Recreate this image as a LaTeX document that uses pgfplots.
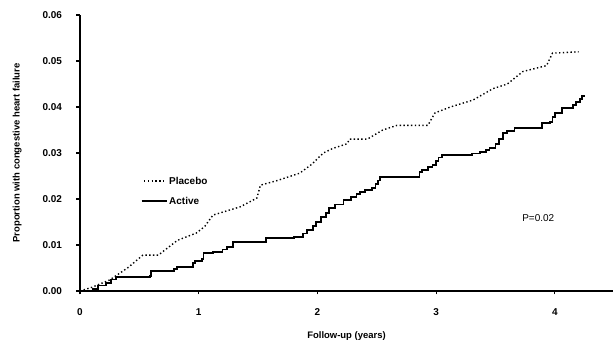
\documentclass[border=0pt]{standalone}
\usepackage{pgfplots}
\pgfplotsset{compat=1.18}
\usepackage{fontspec}
\setmainfont{Liberation Sans}
\begin{document}
\begin{tikzpicture}
\begin{axis}[
  scale only axis, width=533bp, height=276bp,
  xmin=0, xmax=4.49, ymin=0, ymax=0.06,
  axis lines=left, axis line style={-, line width=1.6pt},
  tick align=outside, major tick length=3.5bp,
  tick style={line width=1.1pt, black},
  xtick={0,1,2,3,4}, ytick={0,0.01,0.02,0.03,0.04,0.05,0.06},
  yticklabel style={/pgf/number format/fixed, /pgf/number format/fixed zerofill, /pgf/number format/precision=2, xshift=-11bp},
  xticklabel style={yshift=-11bp},
  /pgf/number format/assume math mode=true,
  ticklabel style={font=\fontsize{10}{12}\selectfont\bfseries},
  scaled y ticks=false,
  xlabel={Follow-up (years)}, ylabel={Proportion with congestive heart failure},
  label style={font=\fontsize{9.5}{11}\selectfont\bfseries},
  xlabel style={yshift=-9bp},
  ylabel style={yshift=14bp},
  clip=false,
]
\coordinate (ll) at (rel axis cs:0,0);
\coordinate (ur) at (rel axis cs:1,1);
\addplot[black, line width=1.4pt, dash pattern=on 1.4pt off 2.4pt] coordinates {
(0,0) (0.1,0.0008) (0.25,0.0024) (0.4,0.005) (0.53,0.0078) (0.66,0.0078)
(0.82,0.011) (0.98,0.0126) (1.05,0.0140) (1.12,0.0165) (1.35,0.0183)
(1.49,0.0202) (1.52,0.023) (1.66,0.024) (1.85,0.0256) (1.95,0.0275)
(2.05,0.030) (2.13,0.031) (2.25,0.032) (2.27,0.033) (2.42,0.033)
(2.55,0.035) (2.67,0.036) (2.93,0.036) (2.99,0.0387) (3.12,0.040)
(3.31,0.0415) (3.48,0.044) (3.6,0.045) (3.73,0.0477) (3.93,0.049)
(3.98,0.0517) (4.2,0.052)
};
\addplot[black, line width=1.8pt, const plot] coordinates {
(0,0) (0.11,0.0005) (0.15,0.0012) (0.22,0.0018) (0.26,0.0025) (0.3,0.0030)
(0.59,0.0033) (0.6,0.0043) (0.79,0.0048) (0.82,0.0053) (0.95,0.0060)
(0.97,0.0066) (1.03,0.0070) (1.04,0.0082) (1.12,0.0085) (1.2,0.0090)
(1.24,0.0096) (1.29,0.0107) (1.57,0.0115) (1.8,0.0118) (1.88,0.0125)
(1.91,0.0133) (1.96,0.0142) (1.99,0.015) (2.03,0.016) (2.07,0.017)
(2.1,0.018) (2.15,0.0188) (2.22,0.0198) (2.28,0.0205) (2.33,0.021)
(2.36,0.0215) (2.4,0.022) (2.46,0.0224) (2.49,0.0232) (2.51,0.024)
(2.53,0.0248) (2.86,0.0258) (2.88,0.0263) (2.93,0.027) (2.97,0.0274)
(3.0,0.0283) (3.02,0.029) (3.05,0.0296) (3.3,0.0299) (3.37,0.0302)
(3.42,0.0307) (3.45,0.031) (3.5,0.032) (3.53,0.033) (3.56,0.0343)
(3.6,0.0348) (3.66,0.0354) (3.89,0.0365) (3.96,0.0367) (3.98,0.0378)
(4.0,0.0387) (4.06,0.0398) (4.15,0.0405) (4.18,0.041) (4.21,0.0418)
(4.23,0.0424) (4.25,0.0424)
};
\draw[black, line width=1.4pt, dash pattern=on 1.4pt off 2.4pt] (axis cs:0.54,0.0239) -- (axis cs:0.73,0.0239);
\node[anchor=west, inner sep=0pt, font=\fontsize{10}{12}\selectfont\bfseries] at (axis cs:0.75,0.0239) {Placebo};
\draw[black, line width=1.8pt] (axis cs:0.52,0.0196) -- (axis cs:0.73,0.0196);
\node[anchor=west, inner sep=0pt, font=\fontsize{10}{12}\selectfont\bfseries] at (axis cs:0.75,0.0196) {Active};
\node[font=\fontsize{10}{12}\selectfont] at (axis cs:3.86,0.0159) {P=0.02};
\end{axis}
\pgfresetboundingbox
\path ([shift={(-80bp,-50bp)}]ll) rectangle ([shift={(0bp,15bp)}]ur);
\end{tikzpicture}
\end{document}
